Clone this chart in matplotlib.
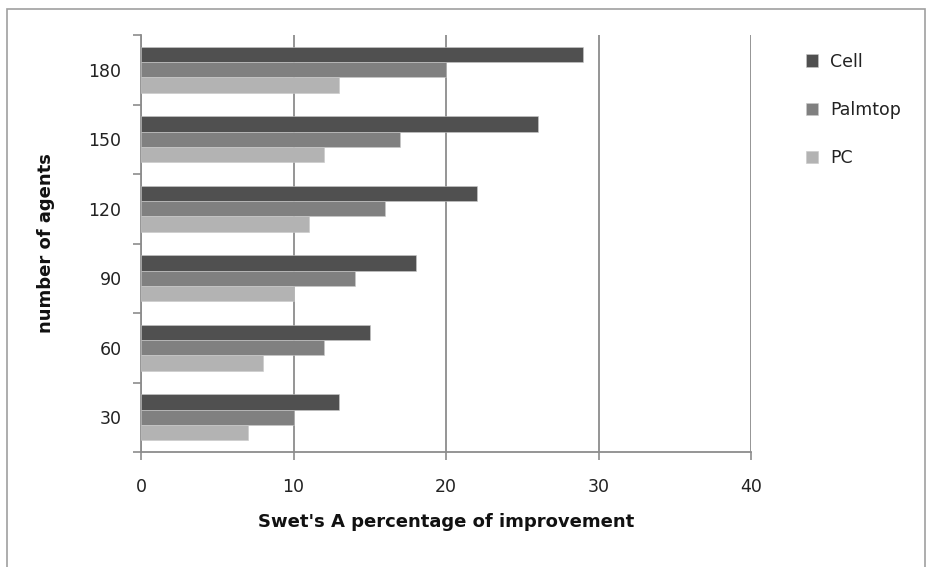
import matplotlib
matplotlib.use('Agg')
import matplotlib.pyplot as plt
from matplotlib.patches import Rectangle
import numpy as np

# agents per run and improvement (%) for each device class
agents = ['30', '60', '90', '120', '150', '180']
cell = [13, 15, 18, 22, 26, 29]
palmtop = [10, 12, 14, 16, 17, 20]
pc = [7, 8, 10, 11, 12, 13]

series = [('Cell', cell, '#505050'),
          ('Palmtop', palmtop, '#808080'),
          ('PC', pc, '#b3b3b3')]

GRID = '#8c8c8c'

fig = plt.figure(figsize=(9.3, 5.67), dpi=100)
ax = fig.add_axes([141 / 930, 1 - 452 / 567, (751 - 141) / 930, (452 - 35) / 567])

# outer chart border
fig.patches.append(Rectangle((7 / 930, -0.05), 918 / 930, 1 - 9 / 567 + 0.05,
                             transform=fig.transFigure, fill=False,
                             edgecolor='#a0a0a0', linewidth=1.2))

y = np.arange(len(agents))
h = 1 / 4.5   # gap width 150%
offsets = [h, 0, -h]
for (name, vals, col), off in zip(series, offsets):
    ax.barh(y + off, vals, height=h, color=col, edgecolor='#c8c8c8',
            linewidth=0.4, label=name, zorder=3)

ax.set_xlim(0, 40)
ax.set_ylim(-0.5, len(agents) - 0.5)
ax.set_xticks([0, 10, 20, 30, 40])
ax.xaxis.grid(True, color=GRID, linewidth=1.3, zorder=0)

# ticks at category boundaries, labels at the centres
ax.set_yticks(np.arange(-0.5, len(agents), 1.0))
ax.set_yticklabels([])
ax.set_yticks(y, minor=True)
ax.set_yticklabels(agents, minor=True)
ax.tick_params(axis='y', which='minor', length=0, pad=14, labelsize=12.5,
               labelcolor='#222222')
ax.tick_params(axis='y', which='major', length=6, color=GRID, width=1.2)
ax.tick_params(axis='x', length=6, color=GRID, width=1.2, pad=13,
               labelsize=12.5, labelcolor='#222222')

for side in ['top', 'right']:
    ax.spines[side].set_visible(False)
for side in ['left', 'bottom']:
    ax.spines[side].set_color(GRID)
    ax.spines[side].set_linewidth(1.3)

ax.set_xlabel("Swet's A percentage of improvement", fontsize=13,
              fontweight='bold', labelpad=12, color='#111111')
ax.set_ylabel('number of agents', fontsize=13, fontweight='bold',
              labelpad=24, color='#111111')

ax.legend(loc='upper left', bbox_to_anchor=(790 / 930, 1 - 37 / 567),
          bbox_transform=fig.transFigure, frameon=False, fontsize=12.5,
          handlelength=0.7, handleheight=0.7, handletextpad=0.7,
          labelspacing=1.75, labelcolor='#222222')

fig.savefig('out.png', dpi=100)
